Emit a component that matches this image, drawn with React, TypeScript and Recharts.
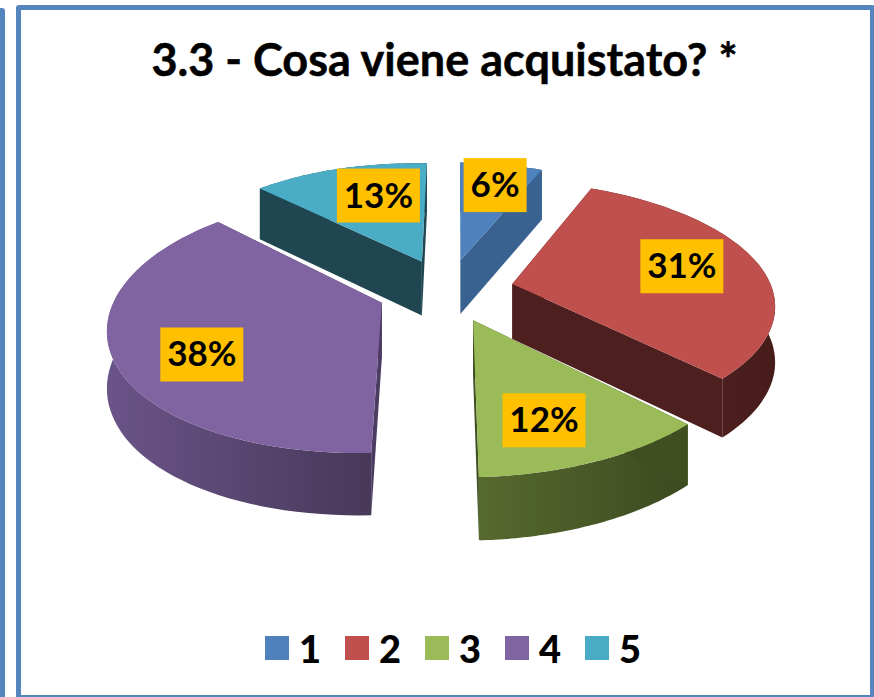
import { Legend, Pie, PieChart } from "recharts"

const categories = ["1", "2", "3", "4", "5"]
const shares = [6, 31, 12, 38, 13]
const colors = ["#4f81bd", "#c0504d", "#9bbb59", "#8064a2", "#4bacc6"]
const cutColors = ["#3a6291", "#4d1f1e", "#3f4f22", "#4c3c62", "#1f4651"]
const wallLight = ["#3f6a9c", "#5e2624", "#56692e", "#6a5488", "#2a5f6d"]
const wallDark = ["#385d8a", "#461c1b", "#3c4a20", "#483859", "#1f4651"]

const pieData = categories.map((name, i) => ({ name, value: shares[i], fill: colors[i], idx: i }))

// fake 3D: plane of the pie goes through a perspective projection
const RAD = Math.PI / 180
const TILT = 0.465
const PERSP = 0.0006
const VANISH_SHIFT = 67
const EXPLODE = 0.26

const project = (cx: number, cy: number, X: number, Y: number) => {
  const s = 1 / (1 - Y * PERSP)
  return {
    x: cx + X * s - VANISH_SHIFT * (s - 0.93) - 7 * (Y / 320) * (Y / 320),
    y: cy + Y * TILT * s + 0.015 * X,
    depth: 50 + (s - 0.85) * 34,
  }
}

const rimPoint = (p: any, angle: number, radius: number) => {
  const mid = (p.startAngle + p.endAngle) / 2
  const off = p.outerRadius * EXPLODE
  const X = off * Math.cos(mid * RAD) + radius * Math.cos(angle * RAD)
  const Y = -off * Math.sin(mid * RAD) - radius * Math.sin(angle * RAD)
  return project(p.cx, p.cy, X, Y)
}

const toPath = (pts: { x: number; y: number }[]) =>
  "M" + pts.map((q) => `${q.x.toFixed(1)},${q.y.toFixed(1)}`).join("L") + "Z"

function Slice3D(props: any) {
  const { startAngle, endAngle, outerRadius, fill, idx } = props
  const steps = 60
  const rim = []
  for (let i = 0; i <= steps; i++) {
    rim.push(rimPoint(props, startAngle + ((endAngle - startAngle) * i) / steps, outerRadius))
  }
  const apex = rimPoint(props, startAngle, 0)
  const down = (q: any) => ({ x: q.x, y: q.y + q.depth })
  const gradId = `wall-${idx}`
  return (
    <g>
      <defs>
        <linearGradient id={gradId} x1="0" y1="0" x2="1" y2="0">
          <stop offset="0%" stopColor={wallLight[idx]} />
          <stop offset="100%" stopColor={wallDark[idx]} />
        </linearGradient>
      </defs>
      <path d={toPath([...rim, ...rim.map(down).reverse()])} fill={`url(#${gradId})`} />
      <path d={toPath([apex, rim[0], down(rim[0]), down(apex)])} fill={cutColors[idx]} />
      <path d={toPath([apex, rim[steps], down(rim[steps]), down(apex)])} fill={cutColors[idx]} />
      <path d={toPath([apex, ...rim])} fill={fill} />
    </g>
  )
}

const labelRadius = 0.64
const labelShift = [
  [6, -11],
  [11, -4],
  [-4, 15],
  [-12, 18],
  [11, -4],
]

function PercentLabel(props: any) {
  const { index, value, outerRadius, startAngle, endAngle } = props
  const mid = (startAngle + endAngle) / 2
  const c = rimPoint(props, mid, outerRadius * labelRadius)
  const w = value < 10 ? 63 : 83
  const x = c.x + labelShift[index][0]
  const y = c.y + labelShift[index][1]
  return (
    <g>
      <rect x={x - w / 2} y={y - 27} width={w} height={54} fill="#ffc000" />
      <text x={x} y={y + 12} textAnchor="middle" fontSize={35} fontWeight={700} fill="#000">
        {value}%
      </text>
    </g>
  )
}

function LegendRow({ payload }: any) {
  return (
    <div style={{ display: "flex" }}>
      {(payload || []).map((item: any) => (
        <div key={item.value} style={{ display: "flex", alignItems: "center", width: 80, height: 44 }}>
          <span style={{ width: 24, height: 24, background: item.color, marginRight: 10 }} />
          <span style={{ fontSize: 38, fontWeight: 900, color: "#000", lineHeight: "44px" }}>{item.value}</span>
        </div>
      ))}
    </div>
  )
}

const borderBlue = "#5585bf"

export default function App() {
  return (
    <div style={{ position: "fixed", left: 0, top: 0, width: 874, height: 697, overflow: "hidden", background: "#fff", fontFamily: "Lato, sans-serif" }}>
      <div style={{ position: "absolute", left: -13, top: 8, width: 8, height: 700, border: `5px solid ${borderBlue}`, borderRadius: 3 }} />
      <div style={{ position: "absolute", left: 16, top: 5, width: 849, height: 685, border: `5px solid ${borderBlue}`, borderRadius: 3 }} />
      <PieChart width={874} height={697} style={{ position: "absolute", left: 0, top: 0 }}>
        <text x={444.5} y={76} textAnchor="middle" fontSize={45} fontWeight={700} stroke="#000" strokeWidth={0.5} fill="#000">
          3.3 - Cosa viene acquistato? *
        </text>
        <Pie
          data={pieData}
          dataKey="value"
          nameKey="name"
          cx={445.5}
          cy={285}
          innerRadius={0}
          outerRadius={262}
          startAngle={90}
          endAngle={-270}
          paddingAngle={0}
          stroke="none"
          shape={Slice3D}
          label={PercentLabel}
          labelLine={false}
          isAnimationActive={false}
        />
        <Legend content={LegendRow} wrapperStyle={{ left: 265, top: 626, width: 420, bottom: "auto" }} />
      </PieChart>
    </div>
  )
}
